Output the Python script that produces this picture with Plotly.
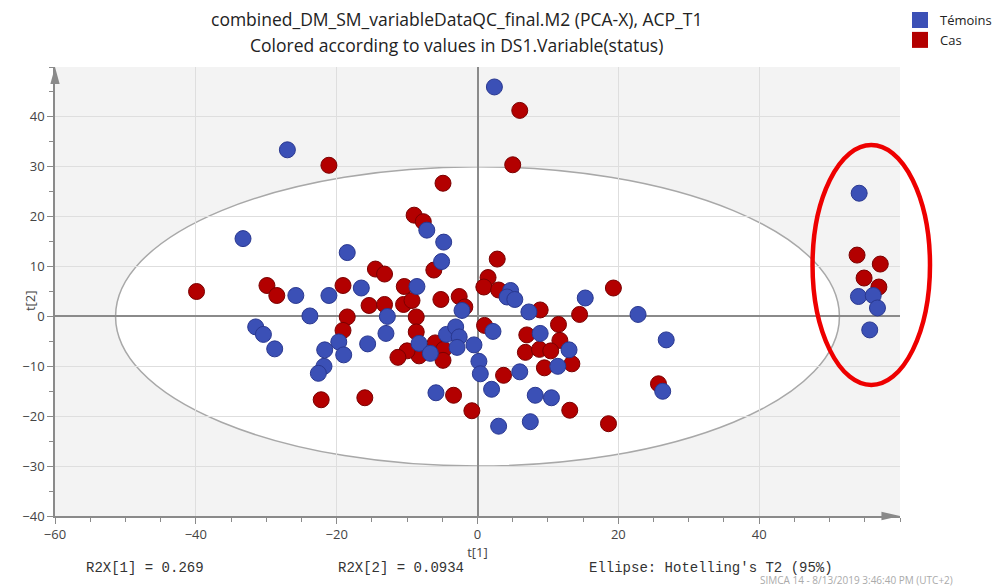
import plotly.graph_objects as go

# ---- data: scores t[1], t[2] by status ----
temoins_t1 = [2.4, -27.0, -33.3, -18.5, -7.2, -4.8, -5.1, -25.8, -21.1, -23.8,
              -16.5, -8.6, -12.8, -2.2, 4.7, 4.2, 5.3, 7.3, 15.3, 22.8,
              26.8, 8.9, 13.0, 11.4, 6.0, 8.2, 10.5, 7.5, 3.0, 26.3,
              -13.0, -15.6, -19.7, -19.0, -8.3, -6.7, -4.4, -3.1, -2.6, -2.9,
              -0.5, 0.2, 0.4, 2.0, -5.9, 2.2, -31.5, -30.4, -28.8, -21.7,
              -21.8, -22.6, 54.2, 54.1, 56.2, 56.8, 55.7]
temoins_t2 = [46.0, 33.4, 15.6, 12.8, 17.3, 14.9, 11.0, 4.2, 4.2, 0.1,
              5.7, 6.0, 0.0, 1.2, 5.2, 3.9, 3.4, 0.9, 3.7, 0.4,
              -4.7, -3.4, -6.7, -10.0, -11.1, -15.8, -16.3, -21.1, -22.0, -15.0,
              -3.4, -5.5, -5.1, -7.7, -5.4, -7.4, -3.6, -2.1, -4.1, -6.2,
              -5.7, -9.0, -11.5, -14.6, -15.3, -3.0, -2.1, -3.6, -6.5, -6.7,
              -10.0, -11.4, 24.7, 4.0, 4.2, 1.7, -2.7]

cas_t1 = [6.0, -21.1, 5.0, -4.9, -9.0, -7.7, -6.2, -14.5, -13.2, 2.8,
          -39.9, -29.9, -28.5, -19.1, -10.4, -5.2, -2.6, -1.8, 1.5, 0.9,
          3.0, 19.3, -15.4, -13.2, -10.5, -9.3, -8.7, -18.5, -19.1, -8.7,
          -6.0, -4.8, -4.9, -8.3, -10.0, -11.3, -3.4, -0.8, -22.2, -16.0,
          1.0, 3.7, 8.9, 14.5, 11.5, 7.0, 11.7, 6.8, 8.8, 10.4,
          13.4, 9.5, 13.1, 18.6, 25.7, 53.9, 57.2, 54.9, 57.0]
cas_t2 = [41.3, 30.3, 30.4, 26.7, 20.3, 19.0, 9.3, 9.5, 8.5, 11.5,
          5.0, 6.2, 4.2, 6.2, 6.0, 3.4, 4.0, 1.9, 7.8, 5.9,
          5.3, 5.7, 2.2, 2.4, 2.4, 3.2, -0.1, -0.1, -2.8, -3.1,
          -5.3, -6.6, -8.8, -7.9, -6.9, -8.2, -15.8, -18.9, -16.7, -16.3,
          -1.8, -11.8, 1.3, 0.4, -1.6, -3.7, -4.8, -7.2, -6.6, -6.9,
          -9.5, -10.3, -18.8, -21.5, -13.5, 12.3, 10.5, 7.7, 5.9]

groups = ["Témoins", "Cas"]
x_ticks = [-60, -40, -20, 0, 20, 40]
y_ticks = [-40, -30, -20, -10, 0, 10, 20, 30, 40]
ellipse_a, ellipse_b = 51.4, 30.0   # Hotelling's T2 (95%) semi-axes
r2x = ["0.269", "0.0934"]

BLUE, BLUE_EDGE = "#3b50b6", "#2a3890"
RED, RED_EDGE = "#b30000", "#7a0000"

fig = go.Figure()
fig.add_trace(go.Scatter(x=cas_t1, y=cas_t2, mode="markers", showlegend=False,
                         marker=dict(size=16, color=RED, line=dict(color=RED_EDGE, width=1))))
fig.add_trace(go.Scatter(x=temoins_t1, y=temoins_t2, mode="markers", showlegend=False,
                         marker=dict(size=16, color=BLUE, line=dict(color=BLUE_EDGE, width=1))))
# legend entries
for name, col in zip(groups, [BLUE, RED]):
    fig.add_trace(go.Scatter(x=[None], y=[None], mode="markers", name=name,
                             marker=dict(symbol="square", size=16, color=col, line=dict(width=0))))

axis_common = dict(showgrid=True, gridcolor="#dedede", gridwidth=1, automargin=False,
                   zeroline=True, zerolinecolor="#8a8a8a", zerolinewidth=1.5,
                   showline=True, linecolor="#8a8a8a", linewidth=1.5,
                   ticks="outside", ticklen=6, tickcolor="#8a8a8a",
                   tickfont=dict(family="Open Sans", size=13, color="#444"))
fig.update_xaxes(range=[-60, 60], tickvals=x_ticks, **axis_common,
                 minor=dict(dtick=5, ticks="outside", ticklen=4, tickcolor="#8a8a8a", showgrid=False),
                 title=dict(text="t[1]", font=dict(family="Open Sans", size=13, color="#444"), standoff=0))
fig.update_yaxes(range=[-40, 50], tickvals=y_ticks, **axis_common,
                 minor=dict(dtick=5, ticks="outside", ticklen=4, tickcolor="#8a8a8a", showgrid=False))

shapes = [
    dict(type="circle", xref="x", yref="y", x0=-ellipse_a, x1=ellipse_a, y0=-ellipse_b, y1=ellipse_b,
         fillcolor="white", line=dict(color="#a8a8a8", width=1.5), layer="below"),
    # axis arrowheads
    dict(type="path", xref="paper", yref="paper",
         path="M -0.0055 0.962 L 0.0055 0.962 L 0 1.0 Z", fillcolor="#8a8a8a", line=dict(width=0)),
    dict(type="path", xref="paper", yref="paper",
         path="M 0.978 0.0095 L 0.978 -0.0095 L 1.0 0 Z", fillcolor="#8a8a8a", line=dict(width=0)),
    # red highlight ellipse
    dict(type="circle", xref="paper", yref="paper", x0=0.8965, x1=1.0355, y0=0.2917, y1=0.8263,
         line=dict(color="#ee0000", width=4.5)),
]

ann_font = dict(family="Liberation Mono", size=14, color="#333")
title_font = dict(family="Open Sans", size=17.5, color="#222")
annotations = [
    dict(text="combined_DM_SM_variableDataQC_final.M2 (PCA-X), ACP_T1", x=0.4746, y=1.1069,
         xref="paper", yref="paper", showarrow=False, xanchor="center", yanchor="middle",
         font=title_font),
    dict(text="Colored according to values in DS1.Variable(status)", x=0.4746, y=1.049,
         xref="paper", yref="paper", showarrow=False, xanchor="center", yanchor="middle",
         font=title_font),
    dict(text="t[2]", x=-0.0296, y=0.481, xref="paper", yref="paper", textangle=-90,
         showarrow=False, xanchor="center", yanchor="middle",
         font=dict(family="Open Sans", size=13, color="#444")),
    dict(text="R2X[1] = " + r2x[0], x=0.034, y=-0.115, xref="paper", yref="paper",
         showarrow=False, xanchor="left", yanchor="middle", font=ann_font),
    dict(text="R2X[2] = " + r2x[1], x=0.3325, y=-0.115, xref="paper", yref="paper",
         showarrow=False, xanchor="left", yanchor="middle", font=ann_font),
    dict(text="Ellipse: Hotelling's T2 (95%)", x=0.6295, y=-0.115, xref="paper", yref="paper",
         showarrow=False, xanchor="left", yanchor="middle", font=ann_font),
    dict(text="SIMCA 14 - 8/13/2019 3:46:40 PM (UTC+2)", x=1.0655, y=-0.1425, xref="paper", yref="paper",
         showarrow=False, xanchor="right", yanchor="middle",
         font=dict(family="Open Sans", size=10, color="#aaa")),
]

# page body has an 8px margin: shrink figure so the plot lands at the reference position
fig.update_layout(
    width=992, height=578,
    margin=dict(l=47, r=100, t=59, b=70, autoexpand=False),
    paper_bgcolor="white", plot_bgcolor="#f3f3f3",
    shapes=shapes, annotations=annotations,
    legend=dict(x=1.0, y=1.138, xanchor="left", yanchor="top",
                font=dict(family="Open Sans", size=13, color="#222"),
                bgcolor="rgba(0,0,0,0)", tracegroupgap=0, itemwidth=30),
)

fig.write_html("out.html")
